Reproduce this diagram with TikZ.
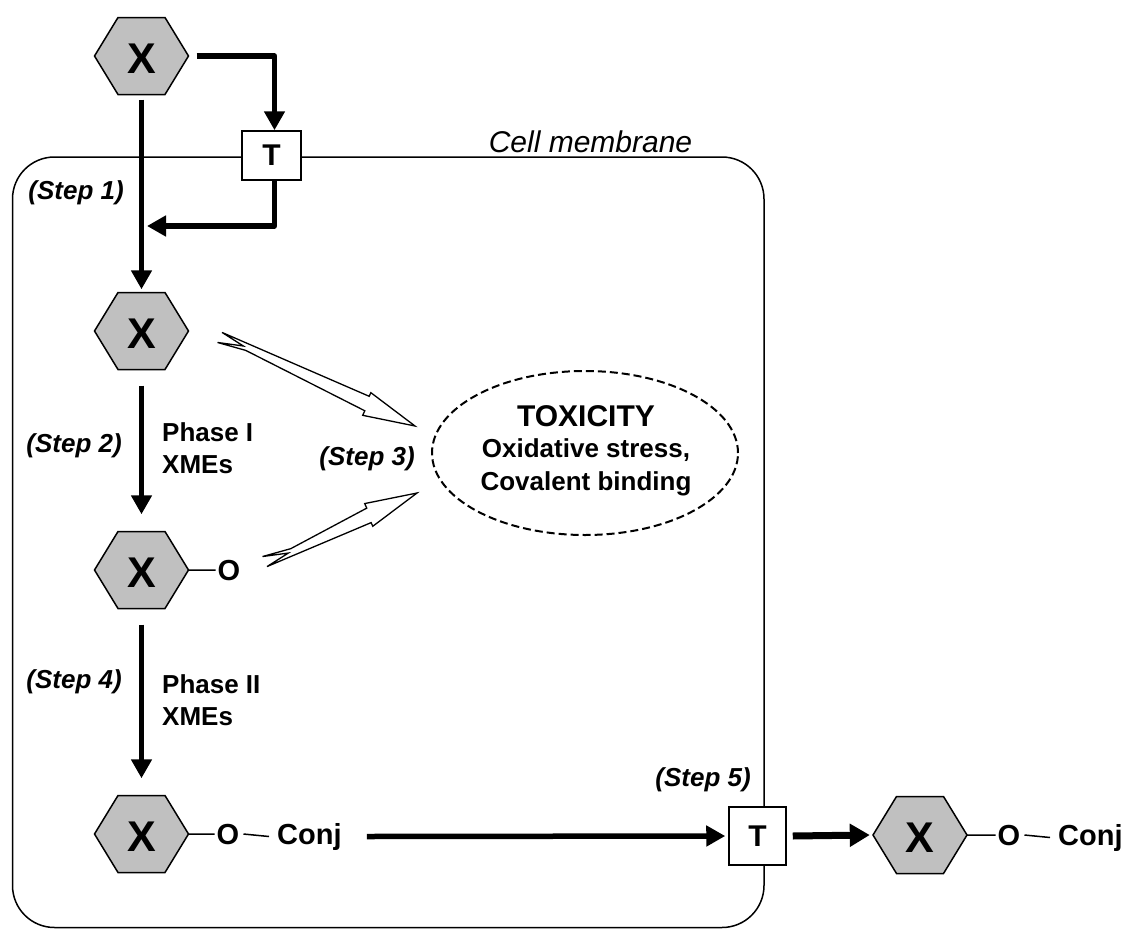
\documentclass[tikz,border=0pt]{standalone}
\usepackage{fontspec}
\setmainfont{Liberation Sans}
\usetikzlibrary{arrows.meta,calc,shapes.geometric}
\definecolor{hexgray}{RGB}{192,192,192}
\newcommand\fsz[1]{\fontsize{#1}{#1}\selectfont}
\newcommand\hexX[2]{%
  \path[hexshape] ($(#2)+(-47,0)$) -- ++(23.5,-38.5) -- ++(47,0) -- ++(23.5,38.5) -- ++(-23.5,38.5) -- ++(-47,0) -- cycle;
  \node[hexnode] (#1) at (#2) {\raisebox{-2.5pt}[\height][0pt]{X}};}
\newcommand\lightning[3]{%
  \path let \p1=($(#2)-(#1)$) in \pgfextra{%
    \pgfmathsetmacro\lgtmpA{atan2(\y1,\x1)}%
    \pgfmathsetmacro\lgtmpL{veclen(\x1,\y1)}%
    \xdef\lgAng{\lgtmpA}\xdef\lgLen{\lgtmpL}};
  \begin{scope}[shift={(#1)}, rotate=\lgAng, x=1pt, y=#3pt]
    \path[lightst] (0,-5) -- ({\lgLen-54},-8) -- ({\lgLen-54},-12) -- (\lgLen,0) -- ({\lgLen-52},12) -- ({\lgLen-52},7) -- (29,1.5) -- (0,6) -- (25,-1.5) -- cycle;
  \end{scope}}
\begin{document}
\begin{tikzpicture}[x=1pt,y=-1pt,
  hexshape/.style={fill=hexgray, draw=black, line width=1.5pt, line join=miter},
  hexnode/.style={minimum width=94pt, minimum height=77pt, inner sep=0pt, font=\bfseries\fsz{43}},
  fat/.style={line width=5.5pt, line join=round, -{Triangle[length=19pt,width=20pt]}},
  fatter/.style={line width=7pt, -{Triangle[length=20pt,width=22pt]}},
  bond/.style={line width=1.5pt},
  membr/.style={line width=1.5pt, rounded corners=42pt},
  tbox/.style={draw, fill=white, line width=1.5pt, inner sep=0pt, font=\bfseries\fsz{30}},
  lbl/.style={inner sep=0pt, font=\bfseries\fsz{26}},
  steplbl/.style={inner sep=0pt, font=\bfseries\itshape\fsz{26}},
  chem/.style={inner sep=0pt, font=\bfseries\fsz{29}},
  tox/.style={draw, dash pattern=on 8pt off 4pt, line width=2pt, ellipse, minimum width=306pt, minimum height=164pt, inner sep=0pt},
  lightst/.style={draw, fill=white, line width=1.3pt, line join=miter}]
\useasboundingbox (0,0) rectangle (1128,929);
% membrane
\draw[membr] (12.5,157) rectangle (764,927.5);
\node[anchor=base, inner sep=0pt, font=\itshape\fsz{30}] (membrlbl) at (590.5,152) {Cell membrane};
% molecules
\hexX{x1}{141.5,56}
\hexX{x2}{141.5,331}
\hexX{x3}{141.5,570}
\hexX{x4}{141.5,834}
\hexX{x5}{920,835}
% transporters
\node[tbox, minimum width=59pt, minimum height=49pt] (t1) at (271.5,155.5) {T};
\node[tbox, minimum width=57pt, minimum height=58pt] (t2) at (757.5,836) {T};
% substituents
\node[chem, anchor=base] (o3) at (229,580) {O};
\node[chem, anchor=base] (o4) at (228,844) {O};
\node[chem, anchor=base west] (c4) at (277,844) {Conj};
\node[chem, anchor=base] (o5) at (1009,845) {O};
\node[chem, anchor=base west] (c5) at (1058,845) {Conj};
\draw[bond] (x3.east) -- ([xshift=-2pt]o3.west);
\draw[bond] (x4.east) -- ([xshift=-2pt]o4.west);
\draw[bond] ([xshift=4pt]o4.east) -- ([xshift=-8pt]c4.west);
\draw[bond] (x5.east) -- ([xshift=-2pt]o5.west);
\draw[bond] ([xshift=4pt]o5.east) -- ([xshift=-8pt]c5.west);
% labels
\node[steplbl, anchor=base east] (s1) at (124,199) {(Step 1)};
\node[steplbl, anchor=base east] (s2) at (122,452) {(Step 2)};
\node[steplbl, anchor=base east] (s3) at (415,465) {(Step 3)};
\node[steplbl, anchor=base east] (s4) at (122,688) {(Step 4)};
\node[steplbl, anchor=base east] (s5) at (751,786) {(Step 5)};
\node[lbl, anchor=base west] (p1a) at (162,441) {Phase I};
\node[lbl, anchor=base west] (p1b) at (162,473) {XMEs};
\node[lbl, anchor=base west] (p2a) at (162,693) {Phase II};
\node[lbl, anchor=base west] (p2b) at (162,725) {XMEs};
% toxicity
\node[tox] (tox) at (585,453) {};
\node[inner sep=0pt, anchor=base, font=\bfseries\fsz{30}] (toxt) at (586,426) {TOXICITY};
\node[lbl, anchor=base] (tox1) at (586,457) {Oxidative stress,};
\node[lbl, anchor=base] (tox2) at (586,490) {Covalent binding};
% lightning arrows
\coordinate (lg1s) at (220,337);
\coordinate (lg1e) at (415,426);
\coordinate (lg2s) at (265,562);
\coordinate (lg2e) at (417,493);
\lightning{lg1s}{lg1e}{-1}
\lightning{lg2s}{lg2e}{1}
% connectors
\coordinate (entry) at (147,226);
\draw[fat] ([yshift=-5pt]x1.south) -- ([yshift=3pt]x2.north);
\draw[fat] ([xshift=8pt]x1.east) -| ([xshift=3pt]t1.north);
\draw[fat] ([xshift=3pt]t1.south) |- (entry);
\draw[fat] ([yshift=-16pt]x2.south) -- ([yshift=17pt]x3.north);
\draw[fat] ([yshift=-16pt]x3.south) -- ([yshift=17pt]x4.north);
\draw[fat] ([xshift=25pt]c4.east) -- ([xshift=-3pt]t2.west);
\draw[fatter] ([xshift=6pt]t2.east) -- ([xshift=-3pt]x5.west);
\end{tikzpicture}
\end{document}
